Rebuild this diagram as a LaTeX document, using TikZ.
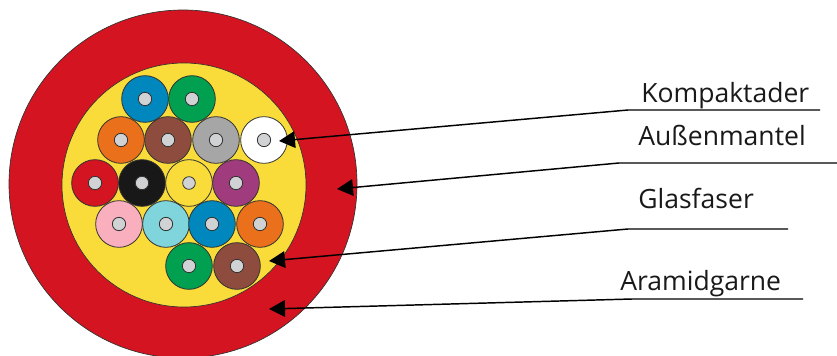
\documentclass[tikz,border=0pt]{standalone}
\usepackage{xcolor}
\usepackage{fontspec}
\setmainfont{Open Sans}
\usetikzlibrary{arrows.meta}
\definecolor{jacketred}{RGB}{212, 20, 32}
\definecolor{yarnyellow}{RGB}{249, 220, 58}
\definecolor{fibreblue}{RGB}{0, 135, 190}
\definecolor{fibregreen}{RGB}{0, 160, 80}
\definecolor{fibreorange}{RGB}{235, 112, 28}
\definecolor{fibrebrown}{RGB}{142, 76, 62}
\definecolor{fibregray}{RGB}{166, 166, 166}
\definecolor{fibreblack}{RGB}{24, 24, 24}
\definecolor{fibrepurple}{RGB}{160, 60, 125}
\definecolor{fibrepink}{RGB}{250, 175, 190}
\definecolor{fibrecyan}{RGB}{128, 212, 220}
\definecolor{coregray}{RGB}{208, 210, 211}
\definecolor{linegray}{RGB}{50, 50, 50}

\begin{document}
\begin{tikzpicture}[
    x=0.75pt, y=-0.75pt,
    sheath/.style={
        circle, draw=linegray, line width=0.5pt, fill=#1, inner sep=0pt
    },
    fibre/.style={
        circle, draw=linegray, line width=0.6pt, fill=#1,
        inner sep=0pt, minimum size=35pt
    },
    core/.style={
        circle, draw=linegray, line width=0.6pt, fill=coregray,
        inner sep=0pt, minimum size=10pt
    },
    pointer/.style={draw=black, line width=1.1pt, -{Triangle[length=12pt, width=12.5pt]}},
    caption/.style={anchor=base west, inner sep=0pt, font=\fontsize{19.9pt}{22pt}\selectfont, text=black!90}
]
    \useasboundingbox (0,0) rectangle (837,356);

    \node[sheath=jacketred, minimum size=261pt] (jacket) at (183,184) {};
    \node[sheath=yarnyellow, minimum size=183pt] (yarn) at (184,185) {};

    % fibres, row by row
    \node[fibre=fibreblue] (blueA) at (145,99) {};
    \node[fibre=fibregreen] (greenA) at (192,99) {};
    \node[fibre=fibreorange] (orangeA) at (121,140) {};
    \node[fibre=fibrebrown] (brownA) at (168,140) {};
    \node[fibre=fibregray] (gray) at (216,140) {};
    \node[fibre=white] (whitefibre) at (264,140) {};
    \node[fibre=jacketred] (red) at (95,183) {};
    \node[fibre=fibreblack] (black) at (142,183) {};
    \node[fibre=yarnyellow] (yellow) at (189,183) {};
    \node[fibre=fibrepurple] (purple) at (236,183) {};
    \node[fibre=fibrepink] (pink) at (119,224) {};
    \node[fibre=fibrecyan] (cyan) at (166,224) {};
    \node[fibre=fibreblue] (blueB) at (212,224) {};
    \node[fibre=fibreorange] (orangeB) at (260,224) {};
    \node[fibre=fibregreen] (greenB) at (189,266) {};
    \node[fibre=fibrebrown] (brownB) at (237,266) {};

    \node[core] (coreblueA) at (blueA) {};
    \node[core] (coregreenA) at (greenA) {};
    \node[core] (coreorangeA) at (orangeA) {};
    \node[core] (corebrownA) at (brownA) {};
    \node[core] (coregrayA) at (gray) {};
    \node[core] (corewhite) at (whitefibre) {};
    \node[core] (corered) at (red) {};
    \node[core] (coreblack) at (black) {};
    \node[core, minimum size=9.5pt] (coreyellow) at (yellow) {};
    \node[core] (corepurple) at (purple) {};
    \node[core] (corepink) at (pink) {};
    \node[core] (corecyan) at (cyan) {};
    \node[core] (coreblueB) at (blueB) {};
    \node[core] (coreorangeB) at (orangeB) {};
    \node[core] (coregreenB) at (greenB) {};
    \node[core] (corebrownB) at (brownB) {};

    \node[caption] (kompakt) at (641,103) {Kompaktader};
    \node[caption] (mantel) at (638,146) {Außenmantel};
    \node[caption] (glas) at (638,208) {Glasfaser};
    \node[caption] (aramid) at (620,290) {Aramidgarne};

    \coordinate (kompaktend) at (820,110);
    \coordinate (kompaktknee) at (628,110);
    \coordinate (kompakttip) at (279,141);
    \coordinate (mantelend) at (837,163);
    \coordinate (mantelknee) at (619,163);
    \coordinate (manteltip) at (337,189);
    \coordinate (glasend) at (788,229);
    \coordinate (glasknee) at (628,229);
    \coordinate (glastip) at (269,261);
    \coordinate (aramidend) at (803,299);
    \coordinate (aramidknee) at (632,299);
    \coordinate (aramidtip) at (269,309);

    \draw[pointer] (kompaktend) -- (kompaktknee) -- (kompakttip);
    \draw[pointer] (mantelend) -- (mantelknee) -- (manteltip);
    \draw[pointer] (glasend) -- (glasknee) -- (glastip);
    \draw[pointer] (aramidend) -- (aramidknee) -- (aramidtip);
\end{tikzpicture}
\end{document}
